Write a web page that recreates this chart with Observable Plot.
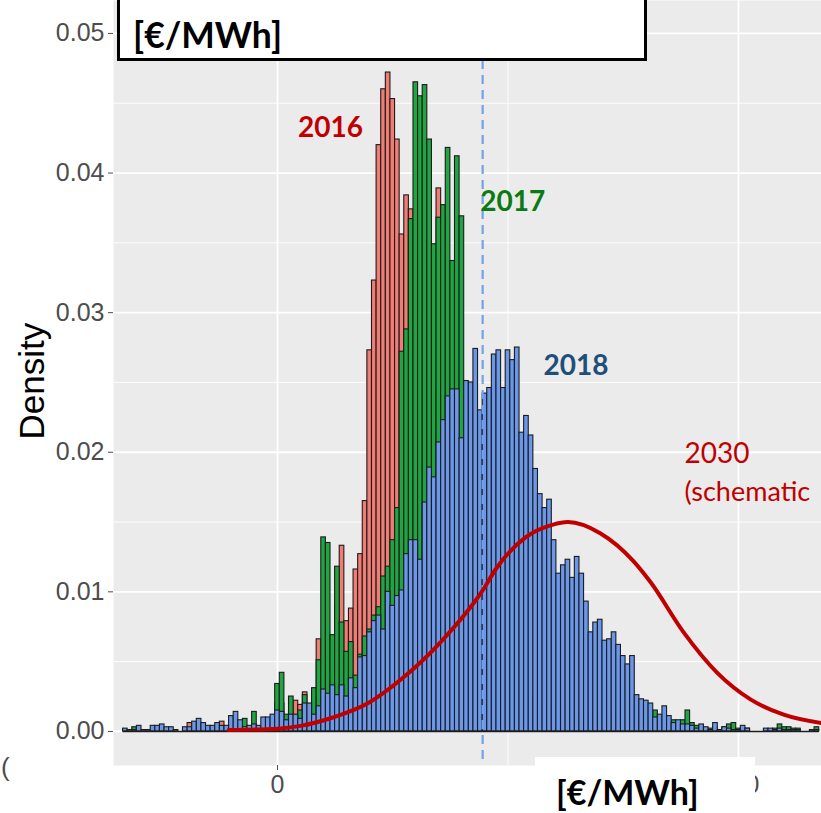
<!DOCTYPE html>
<html>
<head>
<meta charset="utf-8">
<script src="https://cdn.jsdelivr.net/npm/d3@7"></script>
<script src="https://cdn.jsdelivr.net/npm/@observablehq/plot@0.6"></script>
<style>
  body { margin: 0; background: #fff; }
  #wrap { position: relative; width: 821px; height: 813px; overflow: hidden; }
  #wrap svg { position: absolute; left: 0; top: 0; }
  .box { position: absolute; background: #fff; box-sizing: border-box; }
  .boxtext { position: absolute; font-family: Lato, "Open Sans", sans-serif; font-weight: bold; color: #000; white-space: nowrap; }
</style>
</head>
<body>
<div id="wrap"></div>
<script>
// ---- data (€/MWh bins of width 1, centred on integers) ----
const binFirst = -33;
const binLast = 117;
const binWidth = 1;

const red2016 = [
  0,0,0,0,0,0,0,0,0,0,
  0,0,0,0,.0006,0,0,0,0,0,
  0,.0007,0,0,0,0,0,0,0,0,
  0,0,.0010,.0020,.0020,.0010,.0015,.0022,.0019,.0028,
  .0015,.0020,.0066,.0040,.0050,.0060,.0090,.0133,.0079,.0088,
  .0116,.0127,.0165,.0273,.0323,.0420,.0460,.0472,.0453,.0424,
  .0356,.0384,.0374,.0330,.0300,.0280,.0250,.0300,.0389,.0250,
  .0150,.0090,.0060,.0040,.0025,.0015,.0010,.0008,.0006,.0005,
  .0004,.0004,.0003,.0003,.0002,.0002,.0002,.0001,.0001,.0001,
  0,0,0,0,0,0,0,0,0,0,
  0,0,0,0,0,0,0,0,0,0,
  0,0,0,0,0,0,0,0,0,0,
  0,0,0,0,0,0,0,0,0,0,
  0,0,0,0,0,0,0,0,0,0,
  0,0,0,0,0,0,0,0,0,0,
  0
];

const green2017 = [
  0,0,.0003,0,0,0,0,0,0,0,
  0,0,0,0,0,0,0,0,0,0,
  0,0,0,0,0,0,.0009,0,.0014,0,
  0,0,.0006,.0034,.0042,.0012,.0025,.0010,.0015,.0026,
  .0018,.0031,.0051,.0139,.0135,.0069,.0118,.0078,.0057,.0064,
  .0040,.0055,.0068,.0073,.0083,.0089,.0111,.0118,.0137,.0160,
  .0272,.0288,.0367,.0465,.0455,.0463,.0424,.0349,.0368,.0377,
  .0418,.0337,.0412,.0369,.0150,.0110,.0080,.0060,.0050,.0045,
  .0040,.0038,.0035,.0032,.0030,.0028,.0026,.0025,.0024,.0022,
  .0021,.0020,.0019,.0018,.0017,.0016,.0015,.0015,.0014,.0014,
  .0013,.0013,.0012,.0012,.0011,.0011,.0010,.0010,.0010,.0009,
  .0009,.0008,.0008,.0008,.0007,.0015,.0009,.0007,.0006,.0008,
  .0006,.0008,.0015,.0006,.0004,.0003,.0002,.0002,.0003,.0001,
  .0003,.0005,.0006,.0002,.0002,.0002,0,0,0,0,
  0,.0002,.0005,.0003,.0003,.0002,.0002,0,0,.0001,
  .0003
];

const blue2018 = [
  .0002,.0001,.0001,.0004,.0001,.0001,.0004,.0004,.0005,.0003,
  .0003,.0001,0,.0003,.0003,.0007,.0009,.0006,.0004,.0004,
  .0006,.0004,.0004,.0011,.0014,.0008,.0003,.0004,.0005,.0004,
  .0010,.0010,.0012,.0015,.0014,.0008,.0012,.0012,.0009,.0020,
  .0020,.0012,.0018,.0030,.0027,.0033,.0026,.0033,.0025,.0038,
  .0031,.0053,.0054,.0071,.0079,.0083,.0073,.0100,.0090,.0097,
  .0101,.0127,.0137,.0137,.0123,.0164,.0189,.0182,.0207,.0223,
  .0240,.0245,.0245,.0210,.0251,.0250,.0274,.0230,.0242,.0246,
  .0270,.0273,.0246,.0273,.0266,.0275,.0214,.0226,.0212,.0188,
  .0170,.0160,.0166,.0137,.0113,.0119,.0123,.0110,.0125,.0113,
  .0093,.0071,.0078,.0080,.0065,.0066,.0071,.0062,.0054,.0048,
  .0054,.0026,.0023,.0022,.0020,.0010,.0012,.0018,.0011,.0006,
  .0008,.0005,.0005,.0004,.0002,.0005,.0003,.0001,.0006,.0001,
  .0003,.0002,.0001,.0001,.0004,.0002,0,0,0,.0002,
  .0002,.0001,.0002,.0001,.0001,.0001,.0001,0,0,.0001,
  .0001
];

// 2030 schematic curve
const curveX = [-10.6, 0, 5, 12, 19.5, 26.7, 35.4, 44.5, 47.3, 53.8, 59.6, 63, 70, 77.2, 80.9, 88.1, 95.4, 102.6, 109.8, 118];
const curveY = [0.0001, 0.0002, 0.0004, 0.0010, 0.0020, 0.0037, 0.0064, 0.0101, 0.0116, 0.0139, 0.0148, 0.0150, 0.0142, 0.0122, 0.0107, 0.0071, 0.0042, 0.0023, 0.0012, 0.0006];

// mean 2018 (dashed line)
const meanLine = [44.5];

// axes
const yMajor = [0, 0.01, 0.02, 0.03, 0.04, 0.05];
const yMinor = [0.005, 0.015, 0.025, 0.035, 0.045];
const xMajor = [0, 100];
const xMinor = [50];

// annotations (data units)
const labels = [
  {text: "2016", x: 11.5, y: 0.0432, color: "#C00000", weight: "bold", size: 28, anchor: "middle"},
  {text: "2017", x: 44.0, y: 0.0379, color: "#0B7A12", weight: "bold", size: 28, anchor: "start"},
  {text: "2018", x: 57.7, y: 0.0262, color: "#1F4E79", weight: "bold", size: 28, anchor: "start"},
  {text: "2030", x: 88.3, y: 0.0199, color: "#C00000", weight: "normal", size: 28, anchor: "start"},
  {text: "(schematic", x: 88.3, y: 0.0171, color: "#C00000", weight: "normal", size: 27, anchor: "start"}
];
const yTitle = [{text: "Density", x: -53.1, y: 0.0251}];

// ---- build ----
const bins = d3.range(binFirst, binLast + 1);
const toRects = vals => bins.map((k, i) => ({x1: k - binWidth / 2, x2: k + binWidth / 2, y: vals[i]})).filter(d => d.y > 0);
const curve = curveX.map((x, i) => ({x, y: curveY[i]}));

const barStyle = {x1: "x1", x2: "x2", y1: () => 0, y2: "y", stroke: "#1c1c1c", strokeWidth: 1.1};

const chart = Plot.plot({
  width: 821,
  height: 813,
  marginLeft: 113,
  marginRight: 0,
  marginTop: 0,
  marginBottom: 48,
  x: {domain: [-35.57, 118.0]},
  y: {domain: [-0.00244, 0.05236]},
  style: {fontFamily: "'Liberation Sans', Arial, sans-serif", background: "transparent", overflow: "visible"},
  marks: [
    Plot.frame({fill: "#EBEBEB", stroke: "none"}),
    Plot.ruleY(yMinor, {stroke: "#fff", strokeWidth: 0.9}),
    Plot.ruleX(xMinor, {stroke: "#fff", strokeWidth: 0.9}),
    Plot.ruleY(yMajor, {stroke: "#fff", strokeWidth: 1.8}),
    Plot.ruleX(xMajor, {stroke: "#fff", strokeWidth: 1.8}),
    Plot.rect(toRects(red2016), {...barStyle, fill: "#F07C73"}),
    Plot.rect(toRects(green2017), {...barStyle, fill: "#1FA541"}),
    Plot.rect(toRects(blue2018), {...barStyle, fill: "#6A97E9"}),
    Plot.ruleY([0], {x1: binFirst - binWidth / 2, x2: binLast + binWidth / 2, stroke: "#1c1c1c", strokeWidth: 1.6}),
    Plot.ruleX(meanLine, {stroke: "#73A2E6", strokeWidth: 2.2, strokeDasharray: "9,6"}),
    Plot.line(curve, {x: "x", y: "y", stroke: "#C00000", strokeWidth: 4, curve: "monotone-x"}),
    Plot.axisY({ticks: yMajor, tickFormat: d3.format(".2f"), tickSize: 5, tickPadding: 4, fontSize: 25, color: "#4D4D4D", label: null}),
    Plot.axisX({ticks: xMajor, tickFormat: d => String(d), tickSize: 5, tickPadding: 5, fontSize: 25, color: "#4D4D4D", label: null}),
    Plot.text(yTitle, {x: "x", y: "y", text: "text", rotate: -90, fontSize: 35, fill: "#000"}),
    ...labels.map(l => Plot.text([l], {x: "x", y: "y", text: "text", fill: l.color, fontWeight: l.weight, fontSize: l.size, textAnchor: l.anchor, fontFamily: "Lato, 'Open Sans', sans-serif"}))
  ]
});

const wrap = document.getElementById("wrap");
wrap.appendChild(chart);

// collage boxes
function addDiv(cls, css, text) {
  const d = document.createElement("div");
  d.className = cls;
  Object.assign(d.style, css);
  if (text) d.textContent = text;
  wrap.appendChild(d);
}
addDiv("box", {left: "117px", top: "-14px", width: "530px", height: "75px", border: "3px solid #000"});
addDiv("boxtext", {left: "133px", top: "15px", fontSize: "35.5px", lineHeight: "40px"}, "[€/MWh]");
addDiv("box", {left: "535px", top: "757px", width: "220px", height: "60px"});
addDiv("boxtext", {left: "556px", top: "772px", fontSize: "34px", lineHeight: "40px"}, "[€/MWh]");
addDiv("boxtext", {left: "1px", top: "752px", fontSize: "26px", lineHeight: "30px", fontWeight: "normal", color: "#4D4D4D", fontFamily: "'Liberation Sans', Arial, sans-serif"}, "(");
</script>
</body>
</html>
